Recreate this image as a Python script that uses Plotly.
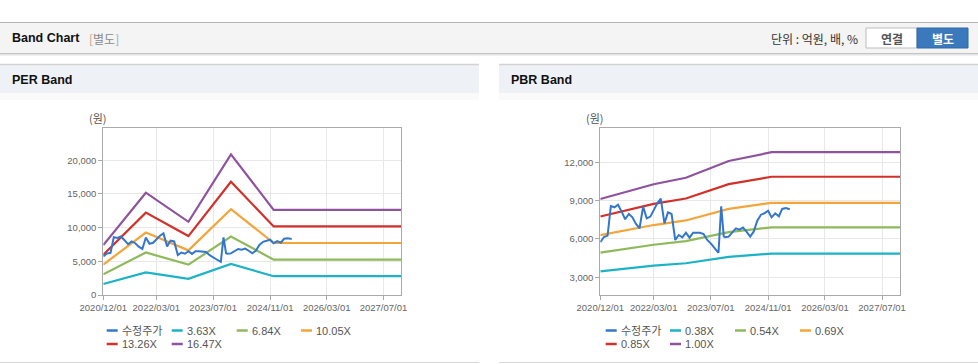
import plotly.graph_objects as go

W, H = 978, 364

# ---------------- data ----------------
price_dates = [
    "2020-12-01", "2021-01-01", "2021-02-01", "2021-03-01", "2021-04-01", "2021-05-01",
    "2021-06-01", "2021-07-01", "2021-08-01", "2021-09-01", "2021-10-01", "2021-11-01",
    "2021-12-01", "2022-01-01", "2022-02-01", "2022-03-01", "2022-04-01", "2022-05-01",
    "2022-06-01", "2022-07-01", "2022-08-01", "2022-09-01", "2022-10-01", "2022-11-01",
    "2022-12-01", "2023-01-01", "2023-02-01", "2023-03-01", "2023-04-01", "2023-05-01",
    "2023-06-01", "2023-07-01", "2023-08-01", "2023-09-05", "2023-09-28", "2023-10-20",
    "2023-11-01", "2023-12-01", "2024-01-01", "2024-02-01", "2024-03-01", "2024-04-01",
    "2024-05-01", "2024-06-01", "2024-07-01", "2024-08-01", "2024-09-01", "2024-10-01",
    "2024-11-01", "2024-12-01", "2025-01-01", "2025-02-01", "2025-03-01", "2025-04-01",
    "2025-05-05",
]
price_values = [
    5740, 6150, 6260, 8580, 8480, 8680,
    8140, 7540, 7950, 7690, 7170, 6840,
    8530, 7610, 7750, 8270, 8790, 9150,
    7220, 8080, 7950, 5920, 6310, 6130,
    6490, 6100, 6490, 6490, 6490, 6390,
    5920, 5660, 5270, 4920, 8550, 6200,
    6130, 6180, 6520, 6830, 6730, 6890,
    6570, 6180, 6570, 7430, 7900, 8010,
    8210, 7690, 8010, 7770, 8350, 8420,
    8320,
]

per_band_dates = ["2020-12-01", "2021-12-01", "2022-12-01", "2023-12-01", "2024-12-01", "2027-12-01"]
per_band_363 = [1640, 3350, 2400, 4600, 2790, 2790]
per_band_684 = [3080, 6310, 4510, 8670, 5250, 5250]
per_band_1005 = [4520, 9270, 6630, 12740, 7720, 7720]
per_band_1326 = [5970, 12230, 8750, 16810, 10180, 10180]
per_band_1647 = [7410, 15190, 10870, 20880, 12650, 12650]
per_labels = ["수정주가", "3.63X", "6.84X", "10.05X", "13.26X", "16.47X"]

pbr_band_dates = ["2020-12-01", "2022-03-01", "2022-12-01", "2023-12-01", "2024-12-01", "2027-12-01"]
pbr_band_038 = [3470, 3910, 4100, 4600, 4860, 4860]
pbr_band_054 = [4930, 5550, 5830, 6530, 6910, 6910]
pbr_band_069 = [6300, 7090, 7450, 8350, 8830, 8830]
pbr_band_085 = [7760, 8740, 9170, 10290, 10870, 10870]
pbr_band_100 = [9130, 10280, 10790, 12100, 12790, 12790]
pbr_labels = ["수정주가", "0.38X", "0.54X", "0.69X", "0.85X", "1.00X"]

x_tick_dates = ["2020-12-01", "2022-03-01", "2023-07-01", "2024-11-01", "2026-03-01", "2027-07-01"]
x_tick_labels = ["2020/12/01", "2022/03/01", "2023/07/01", "2024/11/01", "2026/03/01", "2027/07/01"]
per_y_ticks = [0, 5000, 10000, 15000, 20000]
pbr_y_ticks = [3000, 6000, 9000, 12000]

# ---------------- styles ----------------
COLORS = ["#3377cc", "#1db3c6", "#8fb95b", "#f4a53a", "#d2312b", "#8f539e"]
TICK_FONT = dict(family="Liberation Sans, Arial, sans-serif", size=9.5, color="#666666")
LEG_FONT = dict(family="Liberation Sans, Noto Sans CJK KR, sans-serif", size=11, color="#555555")
KR = "Noto Sans CJK KR, sans-serif"


def px(x):
    return x / W


def py(y):
    return 1 - y / H


fig = go.Figure()

per_series = [per_band_363, per_band_684, per_band_1005, per_band_1326, per_band_1647]
pbr_series = [pbr_band_038, pbr_band_054, pbr_band_069, pbr_band_085, pbr_band_100]

# PER chart
for i, vals in enumerate(per_series):
    fig.add_trace(go.Scatter(x=per_band_dates, y=vals, mode="lines", name=per_labels[i + 1],
                             line=dict(color=COLORS[i + 1], width=2.2), xaxis="x", yaxis="y",
                             showlegend=False))
fig.add_trace(go.Scatter(x=price_dates, y=price_values, mode="lines", name=per_labels[0],
                         line=dict(color=COLORS[0], width=2), xaxis="x", yaxis="y", showlegend=False))

# PBR chart
for i, vals in enumerate(pbr_series):
    fig.add_trace(go.Scatter(x=pbr_band_dates, y=vals, mode="lines", name=pbr_labels[i + 1],
                             line=dict(color=COLORS[i + 1], width=2.2), xaxis="x2", yaxis="y2",
                             showlegend=False))
fig.add_trace(go.Scatter(x=price_dates, y=price_values, mode="lines", name=pbr_labels[0],
                         line=dict(color=COLORS[0], width=2), xaxis="x2", yaxis="y2", showlegend=False))

PLOT_TOP, PLOT_BOT = 128.3, 295.0
axis_common = dict(showline=True, linecolor="#aaaaaa", linewidth=1, mirror=True,
                   showgrid=True, gridcolor="#e8e8e8", gridwidth=1, zeroline=False,
                   ticks="outside", ticklen=4, tickcolor="#aaaaaa", tickfont=TICK_FONT,
                   fixedrange=True, automargin=False)

xcommon = dict(axis_common, type="date", range=["2020-12-01", "2027-12-01"],
               tickvals=x_tick_dates, ticktext=x_tick_labels)

fig.update_layout(
    width=W, height=H, autosize=False,
    margin=dict(l=0, r=0, t=0, b=0, pad=0, autoexpand=False),
    paper_bgcolor="white", plot_bgcolor="white",
    showlegend=False,
    xaxis=dict(xcommon, domain=[px(103.3), px(401.3)], anchor="y"),
    yaxis=dict(axis_common, domain=[py(PLOT_BOT), py(PLOT_TOP)], anchor="x",
               range=[0, 24750], tickvals=per_y_ticks, tickformat=",d"),
    xaxis2=dict(xcommon, domain=[px(600.3), px(900.0)], anchor="y2"),
    yaxis2=dict(axis_common, domain=[py(PLOT_BOT), py(PLOT_TOP)], anchor="x2",
                range=[1615, 14660], tickvals=pbr_y_ticks, tickformat=",d"),
)

shapes = []
annots = []


def rect(x0, y0, x1, y1, fill, line_color=None, lw=0, layer="below"):
    shapes.append(dict(type="rect", xref="paper", yref="paper", x0=px(x0), x1=px(x1),
                       y0=py(y1), y1=py(y0), fillcolor=fill, layer=layer,
                       line=dict(color=line_color or fill, width=lw)))


def hline(x0, x1, y, color, lw=1):
    shapes.append(dict(type="line", xref="paper", yref="paper", x0=px(x0), x1=px(x1),
                       y0=py(y), y1=py(y), line=dict(color=color, width=lw), layer="below"))


def text(x, y, s, size=12, color="#222", family=KR, xanchor="left", bold=False):
    if bold:
        s = "<b>" + s + "</b>"
    annots.append(dict(xref="paper", yref="paper", x=px(x), y=py(y), text=s, showarrow=False,
                       xanchor=xanchor, yanchor="middle", borderpad=0,
                       font=dict(size=size, color=color, family=family)))


# Top header bar
rect(0, 22, W, 53, "#f4f4f4")
hline(0, W, 22.5, "#b4b4b4", 1)
hline(0, W, 53.5, "#c4c4c4", 1)
hline(0, W, 54.5, "#e4e4e4", 1)
hline(0, W, 55.5, "#f0f0f0", 1)
text(11, 38.5, "Band Chart", size=12.5, color="#111", family="Liberation Sans, sans-serif", bold=True)
text(87.5, 38.5, "<span style='color:#c9a27a'>[</span>별도<span style='color:#9aa7b8'>]</span>",
     size=12, color="#8a8a8a")
text(859, 38.5, "단위 : 억원, 배, %", size=12, color="#333", xanchor="right")

# Buttons
rect(866, 28, 917, 48, "#ffffff", "#bdbdbd", 1)
text(891.5, 38.5, "연결", size=12, color="#555", bold=True, xanchor="center")
rect(917, 28, 968, 48, "#3b79bd", "#2f69a8", 1)
text(942.5, 38.5, "별도", size=12, color="#ffffff", bold=True, xanchor="center")

# Panels
for (x0, x1, title) in [(0, 479, "PER Band"), (499, W, "PBR Band")]:
    rect(x0, 64, x1, 93, "#eef1f6")
    hline(x0, x1, 64.5, "#d2d2d2", 1.5)
    rect(x0, 93, x1, 100, "#fafafa")
    hline(x0, x1, 362.5, "#d8d8d8", 1)
    text(x0 + 11, 80, title, size=12.5, color="#111", family="Liberation Sans, sans-serif", bold=True)

# Y axis unit labels
text(98, 118.5, "(원)", size=11, color="#555", xanchor="center")
text(595, 118.5, "(원)", size=11, color="#555", xanchor="center")


# Legends (custom, compact)
def legend(x_cols, labels, rows_y):
    positions = [(x_cols[0], rows_y[0]), (x_cols[1], rows_y[0]), (x_cols[2], rows_y[0]),
                 (x_cols[3], rows_y[0]), (x_cols[0], rows_y[1]), (x_cols[1], rows_y[1])]
    for i, (lx, ly) in enumerate(positions):
        shapes.append(dict(type="line", xref="paper", yref="paper", x0=px(lx), x1=px(lx + 11),
                           y0=py(ly), y1=py(ly), line=dict(color=COLORS[i], width=2.5)))
        annots.append(dict(xref="paper", yref="paper", x=px(lx + 13), y=py(ly), text=labels[i],
                           showarrow=False, xanchor="left", yanchor="middle", font=LEG_FONT))


legend([106.7, 171.7, 236.7, 301.0], per_labels, [330.5, 344.0])
legend([605.7, 670.0, 735.0, 800.0], pbr_labels, [330.5, 344.0])

fig.update_layout(shapes=shapes, annotations=annots)
fig.write_html("out.html", config={"displayModeBar": False, "staticPlot": False},
               post_script="document.body.style.margin='0px';document.body.style.overflow='hidden';")
